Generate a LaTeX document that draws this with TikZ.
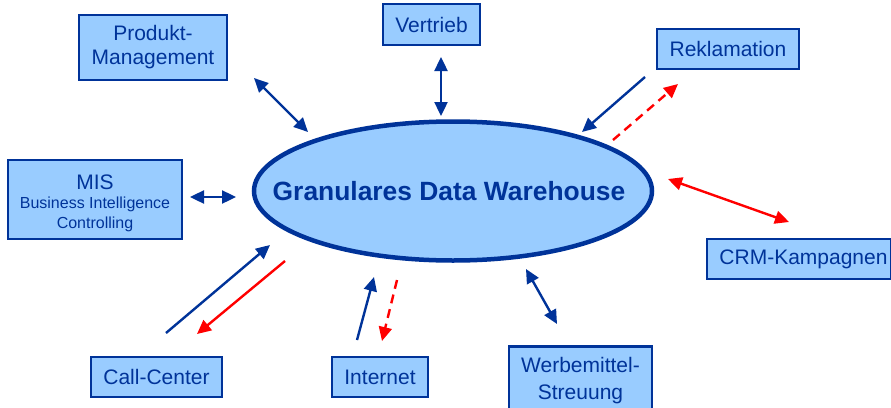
\documentclass[tikz,border=0pt]{standalone}
\usepackage{fontspec}
\setmainfont{Liberation Sans}
\usetikzlibrary{arrows.meta,shapes.geometric}
\definecolor{dblue}{HTML}{003399}
\definecolor{lblue}{HTML}{99CCFF}
\definecolor{ared}{HTML}{FF0000}
\newcommand{\smallfnt}{\fontsize{16}{19.5}\selectfont}
\tikzset{
  box/.style={draw=dblue, fill=lblue, line width=2.6pt, inner sep=0pt, align=center,
    text=dblue, font=\fontsize{21}{24}\selectfont},
  tip/.style={Triangle[length=14pt,width=13pt]},
  bluearr/.style={draw=dblue, line width=2.4pt, -{Triangle[length=14pt,width=13pt]}},
  bluedbl/.style={draw=dblue, line width=2.4pt, {Triangle[length=14pt,width=13pt]}-{Triangle[length=14pt,width=13pt]}},
  redarr/.style={draw=ared, line width=2.4pt, -{Triangle[length=14pt,width=13pt]}},
  reddbl/.style={draw=ared, line width=2.4pt, {Triangle[length=14pt,width=13pt]}-{Triangle[length=14pt,width=13pt]}},
  reddash/.style={redarr, dash pattern=on 9pt off 6pt},
}
\begin{document}
\begin{tikzpicture}[x=1pt,y=-1pt]
\useasboundingbox (0,0) rectangle (891,407);
\fill[white] (0,0) rectangle (891,407);

% central ellipse
\node[draw=dblue, fill=lblue, line width=4.5pt, ellipse, minimum width=398pt, minimum height=139pt, inner sep=0pt] (dw) at (453,191) {};
\node[text=dblue, font=\bfseries\fontsize{26.4}{30}\selectfont] (dwt) at (449,191) {Granulares Data Warehouse};

% boxes
\node[box, minimum width=148pt, minimum height=65pt] (prod) at (153,47.5) {Produkt-\\Management};
\node[box, minimum width=97pt, minimum height=41pt] (vert) at (431.5,24.5) {Vertrieb};
\node[box, minimum width=142pt, minimum height=40pt] (rekl) at (728,49) {Reklamation};
\node[box, minimum width=174pt, minimum height=79pt] (mis) at (95,199.5) {};
\node[text=dblue, align=center, font=\smallfnt, inner sep=0pt] (mist) at (95,203) {{\fontsize{21}{24}\selectfont MIS}\\Business Intelligence\\Controlling};
\node[box, minimum width=131pt, minimum height=40pt] (call) at (156.5,377) {Call-Center};
\node[box, minimum width=96pt, minimum height=40pt] (inet) at (380,377) {Internet};
\node[box, minimum width=143pt, minimum height=80pt, anchor=north] (werb) at (580.5,345) {};
\node[text=dblue, font=\fontsize{21}{27}\selectfont, align=center] (werbt) at (580.5,381) {Werbemittel-\\Streuung};
\node[box, minimum width=184pt, minimum height=40pt] (crm) at (799,259) {\hspace*{9pt}CRM-Kampagnen};

% arrow end points
\coordinate (p1) at (254,78);  \coordinate (p2) at (308,132);
\coordinate (v1) at (441,57);  \coordinate (v2) at (441,116);
\coordinate (r1) at (645,77);  \coordinate (r2) at (582,132);
\coordinate (r3) at (613,140); \coordinate (r4) at (678,84);
\coordinate (m1) at (190,197); \coordinate (m2) at (236,197);
\coordinate (c1) at (166,333); \coordinate (c2) at (270,245);
\coordinate (c3) at (285,261); \coordinate (c4) at (197,334);
\coordinate (i1) at (357,340); \coordinate (i2) at (374,277);
\coordinate (i3) at (397,280); \coordinate (i4) at (382,341);
\coordinate (w1) at (526,269); \coordinate (w2) at (557,324);
\coordinate (k1) at (668,179); \coordinate (k2) at (789,222);

\draw[bluedbl] (p1) -- (p2);
\draw[bluedbl] (v1) -- (v2);
\draw[bluearr] (r1) -- (r2);
\draw[reddash] (r3) -- (r4);
\draw[bluedbl] (m1) -- (m2);
\draw[bluearr] (c1) -- (c2);
\draw[redarr] (c3) -- (c4);
\draw[bluearr] (i1) -- (i2);
\draw[reddash] (i3) -- (i4);
\draw[bluedbl] (w1) -- (w2);
\draw[reddbl] (k1) -- (k2);
\end{tikzpicture}
\end{document}
